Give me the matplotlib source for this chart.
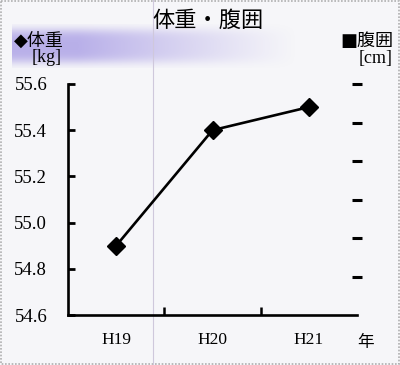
import matplotlib
matplotlib.use("Agg")
import matplotlib.pyplot as plt
import numpy as np
from matplotlib.patches import Rectangle
from matplotlib.lines import Line2D

years = ["H19", "H20", "H21"]
weight = [54.9, 55.4, 55.5]
yticks = [54.6, 54.8, 55.0, 55.2, 55.4, 55.6]
ytick_labels = ["54.6", "54.8", "55.0", "55.2", "55.4", "55.6"]
waist_ticks = [1, 2, 3, 4, 5, 6]

FONT = ["Liberation Serif", "Noto Sans CJK JP", "DejaVu Sans"]
plt.rcParams['font.family'] = FONT

fig = plt.figure(figsize=(4.0, 3.65), dpi=100)
fig.patch.set_facecolor("#f6f6f9")

# purple brush band behind header
bg = fig.add_axes([0, 0, 1, 1], zorder=0)
bg.set_xlim(0, 400); bg.set_ylim(365, 0); bg.axis("off")
nx, ny = 400, 60
gx = np.clip(np.linspace(1.3, -0.15, nx), 0, 1) ** 1.1
yy = np.linspace(-1, 1, ny)
gy = np.exp(-(yy / 0.8) ** 4)
rgba = np.zeros((ny, nx, 4))
rgba[..., 0] = 0.62; rgba[..., 1] = 0.57; rgba[..., 2] = 0.89
rgba[..., 3] = 0.7 * np.outer(gy, gx)
bg.imshow(rgba, extent=(12, 330, 68, 24), aspect="auto", interpolation="bilinear")
bg.add_line(Line2D([153, 153], [0, 365], color="#cfc8dc", lw=0.8))
bg.add_patch(Rectangle((1, 1), 398, 363, fill=False, ec="#b0b0b0", lw=1.2, ls=(0, (1, 1))))

ax = fig.add_axes([68/400, 1-315/365, (357-68)/400, (315-84)/365], zorder=2)
ax.patch.set_alpha(0)
x = np.arange(len(years))
ax.plot(x, weight, color="black", lw=1.9, marker="D", markersize=9, zorder=3, clip_on=False)
ax.set_xlim(-0.5, len(years) - 0.5)
ax.set_ylim(54.6, 55.6)
ax.set_yticks(yticks)
ax.set_yticklabels(ytick_labels, fontsize=13.5)
ax.set_xticks([0.5, 1.5])
ax.set_xticklabels([])
ax.set_xticks(x, minor=True)
ax.set_xticklabels(years, minor=True, fontsize=12.5)
ax.tick_params(axis="x", which="major", direction="in", length=6, width=1.8)
ax.tick_params(axis="x", which="minor", length=0, pad=12)
ax.tick_params(axis="y", direction="in", length=5, width=2, pad=15)
for s in ["top", "right"]:
    ax.spines[s].set_visible(False)
for s in ["left", "bottom"]:
    ax.spines[s].set_linewidth(1.9)

ax2 = ax.twinx()
ax2.set_ylim(0, 6)
ax2.set_yticks(waist_ticks)
ax2.set_yticklabels([])
for s in ax2.spines.values():
    s.set_visible(False)
ax2.tick_params(axis="y", direction="inout", length=7, width=2.2)

fig.text(208/400, 1-22/365, "体重・腹囲", ha="center", va="center", fontsize=16)
fig.text(14/400, 1-41/365, "◆体重", ha="left", va="center", fontsize=13,
         family=["DejaVu Sans", "Noto Sans CJK JP"])
fig.text(32/400, 1-58/365, "[kg]", ha="left", va="center", fontsize=13)
fig.text(393/400, 1-41/365, "■腹囲", ha="right", va="center", fontsize=13,
         family=["DejaVu Sans", "Noto Sans CJK JP"])
fig.text(393/400, 1-58/365, "[cm]", ha="right", va="center", fontsize=13)
fig.text(366/400, 1-342/365, "年", ha="center", va="center", fontsize=12,
         family=["Noto Sans CJK JP"])

fig.savefig("out.png", dpi=100, facecolor=fig.get_facecolor())
